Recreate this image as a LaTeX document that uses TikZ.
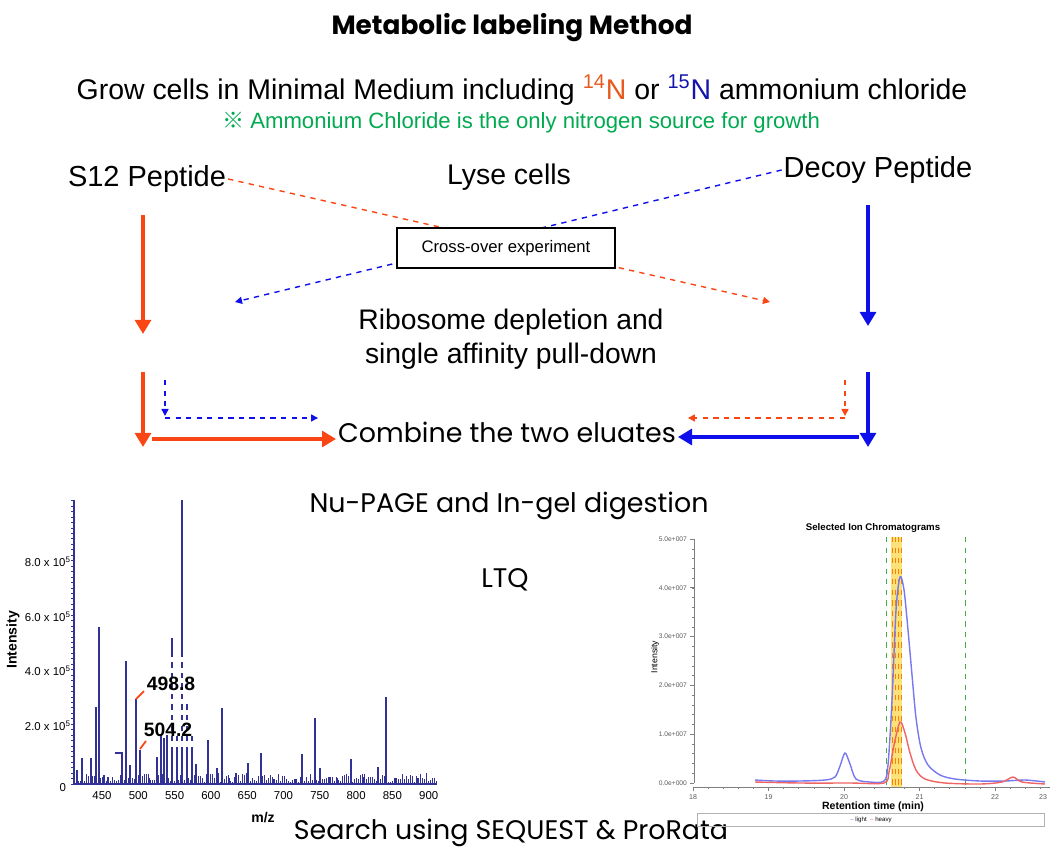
\documentclass[tikz,border=0pt]{standalone}
\usepackage{fontspec}
\setmainfont{Liberation Sans}
\newfontfamily\comicfont{Poppins}
\newfontfamily\cjk{Noto Sans CJK SC}
\usepackage{tikz}
\usetikzlibrary{arrows.meta, positioning, calc}
\definecolor{myred}{RGB}{250,70,20}
\definecolor{myblue}{RGB}{15,15,235}
\definecolor{mygreen}{RGB}{0,170,80}
\definecolor{nred}{RGB}{230,90,30}
\definecolor{nblue}{RGB}{20,20,170}
\definecolor{specblue}{RGB}{50,50,150}
\definecolor{lightblue}{RGB}{120,120,240}
\definecolor{heavyred}{RGB}{240,100,100}
\definecolor{bandyel}{RGB}{250,225,120}
\definecolor{markgreen}{RGB}{70,170,70}
\tikzset{
  comic/.style={font=\comicfont\fontsize{15.3}{18}\selectfont, inner sep=1pt},
  plain/.style={font=\fontsize{16.2}{19}\selectfont, inner sep=1pt},
  fatred/.style={-{Triangle[width=9pt,length=8pt]}, line width=2.6pt, color=myred},
  fatblue/.style={-{Triangle[width=9pt,length=8pt]}, line width=2.6pt, color=myblue},
  dashred/.style={-{Triangle[width=4pt,length=4pt]}, dashed, thick, color=myred},
  dashblue/.style={-{Triangle[width=4pt,length=4pt]}, dashed, thick, color=myblue},
  specbar/.style={color=specblue, line width=0.9pt},
  ticklbl/.style={font=\fontsize{6.5}{7}\selectfont, inner sep=1pt},
  axlbl/.style={font=\bfseries\fontsize{8}{9}\selectfont, inner sep=1pt}
}

\begin{document}
\begin{tikzpicture}[x=0.02cm, y=-0.02cm]
  \useasboundingbox (0,0) rectangle (1050,858);

  % Header lines
  \node[comic, font=\comicfont\bfseries\fontsize{15}{18}\selectfont] (title) at (512,28) {Metabolic labeling Method};
  \node[plain] (grow) at (522,90) {Grow cells in Minimal Medium including \textcolor{nred}{\textsuperscript{14}N} or \textcolor{nblue}{\textsuperscript{15}N} ammonium chloride};
  \node[plain, font=\fontsize{12.6}{14}\selectfont, text=mygreen] (note) at (521,123) {{\cjk ※} Ammonium Chloride is the only nitrogen source for growth};

  % Two strains
  \node[plain, font=\fontsize{16.5}{19}\selectfont] (s12) at (147,179) {S12 Peptide};
  \node[plain] (lyse) at (509,177) {Lyse cells};
  \node[plain, font=\fontsize{16.5}{19}\selectfont] (decoy) at (878,170) {Decoy Peptide};

  % Cross-over
  \coordinate (crossR) at (770,302);
  \coordinate (crossB) at (235,302);
  \draw[dashred] (s12.east) -- (crossR);
  \draw[dashblue] (decoy.west) -- (crossB);
  \node[draw, fill=white, line width=0.6pt, minimum width=218*0.02cm, minimum height=40*0.02cm,
    font=\fontsize{9.5}{11}\selectfont] (cross) at (506,248) {Cross-over experiment};

  \node[plain, align=center, font=\fontsize{16.1}{19.5}\selectfont] (ribo) at (511,339) {Ribosome depletion and\\single affinity pull-down};

  % Straight lanes
  \draw[fatred] (143,215) -- (143,334);
  \draw[fatblue] (868,205) -- (868,326);

  \node[comic] (combine) at (507,432) {Combine the two eluates};
  \draw[fatred] (143,372) -- (143,447);
  \draw[fatred] (152,439) -- (combine.west |- 0,439);
  \draw[fatblue] (868,372) -- (868,447);
  \draw[fatblue] (859,437) -- (combine.east |- 0,437);

  % Cross-over lanes
  \draw[dashblue] (165,380) -- (165,416);
  \draw[dashblue] (165,418) -- ($(combine.west |- 0,418)+(-18,0)$);
  \draw[dashred] (845,380) -- (845,416);
  \draw[dashred] (845,418) -- ($(combine.east |- 0,418)+(10,0)$);

  \node[comic] (nupage) at (509,506) {Nu-PAGE and In-gel digestion};
  \node[comic] (ltq) at (505,580) {LTQ};
  \node[comic] (search) at (511,833) {Search using SEQUEST \& ProRata};

  % Mass spectrum (left)
  \pgfmathsetseed{7}
  \foreach \x in {76,78,...,436} {
    \pgfmathsetmacro{\h}{784-2-rnd*9}
    \draw[specbar, line width=0.5pt] (\x,784) -- (\x,\h);
  }
  \foreach \x/\y in {77/770, 82/758, 91/758, 96/707, 99/627, 104/775, 108/777,
      126/661, 130/765, 136/699, 140/750, 149/778, 157/757, 161/735, 164/738,
      167/735, 172/638, 177/735, 182/500, 187/699, 192/735, 196/764, 208/740,
      217/768, 222/708, 229/778, 236/773, 248/763, 261/753, 274/779, 296/779,
      302/754, 315/718, 320/768, 330/777, 337/778, 351/759, 364/777, 378/767,
      386/697, 396/778, 418/778}
    \draw[specbar] (\x,784) -- (\x,\y);
  \draw[specbar] (115,753) -- (122,753) -- (122,784);
  \foreach \x in {172,177,182,187,192}
    \draw[white, dashed, line width=0.6pt] (\x,657) -- (\x,747);
  \draw[specbar, line width=1pt] (74,500) -- (74,784) -- (437,784);
  \foreach \k in {0,...,52}
    \draw[specbar, line width=0.3pt] (71,{784-\k*5.45}) -- (74,{784-\k*5.45});
  \foreach \v/\y in {8.0/562, 6.0/617, 4.0/671, 2.0/726}
    \node[ticklbl, anchor=east] at (73,\y) {\v{} x 10\textsuperscript{5}};
  \node[ticklbl, anchor=east] at (68,788) {0};
  \foreach \m in {450,500,...,900}
    \node[ticklbl, font=\fontsize{6.5}{7}\selectfont] at ({102+(\m-450)*0.726},796) {\m};
  \node[axlbl] (mz) at (263,818) {m/z};
  \node[axlbl, rotate=90] (inty) at (13,640) {Intensity};
  \draw[myred, line width=1pt] (136,699) -- (144,691);
  \draw[myred, line width=1pt] (140,749) -- (146,741);
  \node[font=\bfseries\fontsize{11}{12}\selectfont, inner sep=0pt] (p498) at (171,684) {498.8};
  \node[font=\bfseries\fontsize{11}{12}\selectfont, inner sep=0pt] (p504) at (168,730) {504.2};

  % Ion chromatogram (right)
  \node[font=\bfseries\fontsize{5.5}{6}\selectfont] (sictitle) at (873,528) {Selected Ion Chromatograms};
  \fill[bandyel] (891,537) rectangle (902,787);
  \foreach \x in {892,895,898,901}
    \draw[orange, dashed, line width=0.4pt] (\x,537) -- (\x,787);
  \draw[markgreen, dashed, line width=0.4pt] (886,537) -- (886,787);
  \draw[markgreen, dashed, line width=0.4pt] (965,537) -- (965,787);
  \draw[lightblue, line width=0.8pt] plot[smooth, tension=0.5] coordinates {
    (755,780) (775,781) (800,781) (825,780) (835,777) (840,766) (845,753) (850,764)
    (856,779) (870,782) (884,781) (888,765) (892,700) (896,610) (900,577) (904,590)
    (908,630) (912,675) (916,718) (921,748) (928,765) (940,775) (955,779) (980,781)
    (1005,781) (1025,780) (1045,782)};
  \draw[heavyred, line width=0.8pt] plot[smooth, tension=0.5] coordinates {
    (755,782) (800,783) (850,783) (884,783) (889,772) (894,745) (900,722) (905,733)
    (910,753) (916,770) (925,779) (945,783) (980,784) (1002,782) (1013,777)
    (1022,782) (1045,784)};
  \draw[gray, line width=0.4pt] (694,539) -- (694,783);
  \foreach \k in {0,...,25}
    \draw[gray, line width=0.3pt] (692,{783-\k*9.76}) -- (694,{783-\k*9.76});
  \foreach \v [count=\k from 0] in {0.0e+000,1.0e+007,2.0e+007,3.0e+007,4.0e+007,5.0e+007} {
    \draw[gray, line width=0.4pt] (690,{783-\k*48.8}) -- (694,{783-\k*48.8});
    \node[ticklbl, font=\fontsize{3.8}{4}\selectfont, anchor=east, text=gray!70!black] at (689,{783-\k*48.8}) {\v};
  }
  \draw[gray, line width=0.4pt] (693,787) -- (1050,787);
  \foreach \k in {0,...,23}
    \draw[gray, line width=0.3pt] ({693+\k*15.1},787) -- ({693+\k*15.1},789);
  \foreach \t [count=\k from 0] in {18,...,22} {
    \draw[gray, line width=0.4pt] ({693+\k*75.5},787) -- ({693+\k*75.5},791);
    \node[ticklbl, font=\fontsize{4}{5}\selectfont, text=gray!70!black] at ({693+\k*75.5},797) {\t};
  }
  \node[ticklbl, font=\fontsize{4}{5}\selectfont, text=gray!70!black] (t23) at (1043,797) {23};
  \node[font=\bfseries\fontsize{6}{7}\selectfont, inner sep=1pt] (rt) at (873,807) {Retention time (min)};
  \node[font=\fontsize{5}{6}\selectfont, rotate=90, inner sep=1pt] (inty2) at (655,657) {Intensity};
  \node[draw=gray!60, line width=0.3pt, minimum width=347*0.02cm, minimum height=13*0.02cm,
    inner sep=0pt, font=\fontsize{3.5}{4}\selectfont] (legend) at (871,820)
    {\textcolor{lightblue}{--} light \ \textcolor{heavyred}{--} heavy};
\end{tikzpicture}
\end{document}
